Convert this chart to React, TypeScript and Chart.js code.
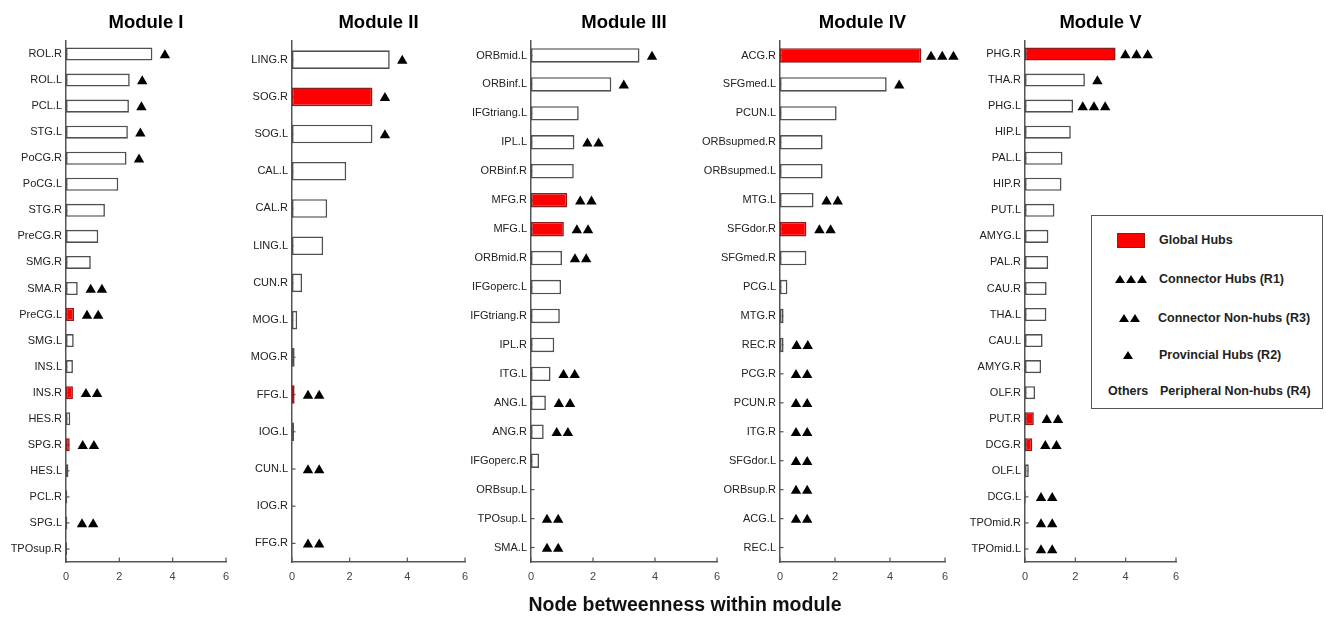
import React, { useEffect, useRef } from "react";
import { Chart, registerables } from "chart.js";

Chart.register(...registerables);

// ---------------- DATA ----------------
// roles: 3 = Connector Hub (R1), 2 = Connector Non-hub (R3), 1 = Provincial Hub (R2), 0 = Peripheral Non-hub (R4)
// global: 1 = Global Hub (red bar)

const mod1Labels = ["ROL.R", "ROL.L", "PCL.L", "STG.L", "PoCG.R", "PoCG.L", "STG.R", "PreCG.R", "SMG.R", "SMA.R", "PreCG.L", "SMG.L", "INS.L", "INS.R", "HES.R", "SPG.R", "HES.L", "PCL.R", "SPG.L", "TPOsup.R"];
const mod1Values = [3.24, 2.39, 2.36, 2.32, 2.27, 1.96, 1.46, 1.21, 0.93, 0.44, 0.3, 0.29, 0.26, 0.26, 0.16, 0.14, 0.09, 0.05, 0.05, 0.04];
const mod1Roles = [1, 1, 1, 1, 1, 0, 0, 0, 0, 2, 2, 0, 0, 2, 0, 2, 0, 0, 2, 0];
const mod1Global = [0, 0, 0, 0, 0, 0, 0, 0, 0, 0, 1, 0, 0, 1, 0, 1, 0, 0, 0, 0];

const mod2Labels = ["LING.R", "SOG.R", "SOG.L", "CAL.L", "CAL.R", "LING.L", "CUN.R", "MOG.L", "MOG.R", "FFG.L", "IOG.L", "CUN.L", "IOG.R", "FFG.R"];
const mod2Values = [3.39, 2.79, 2.79, 1.88, 1.22, 1.08, 0.35, 0.18, 0.09, 0.09, 0.07, 0, 0, 0];
const mod2Roles = [1, 1, 1, 0, 0, 0, 0, 0, 0, 2, 0, 2, 0, 2];
const mod2Global = [0, 1, 0, 0, 0, 0, 0, 0, 0, 1, 0, 0, 0, 0];

const mod3Labels = ["ORBmid.L", "ORBinf.L", "IFGtriang.L", "IPL.L", "ORBinf.R", "MFG.R", "MFG.L", "ORBmid.R", "IFGoperc.L", "IFGtriang.R", "IPL.R", "ITG.L", "ANG.L", "ANG.R", "IFGoperc.R", "ORBsup.L", "TPOsup.L", "SMA.L"];
const mod3Values = [3.5, 2.59, 1.54, 1.4, 1.38, 1.17, 1.06, 1.0, 0.97, 0.93, 0.75, 0.63, 0.48, 0.41, 0.26, 0, 0, 0];
const mod3Roles = [1, 1, 0, 2, 0, 2, 2, 2, 0, 0, 0, 2, 2, 2, 0, 0, 2, 2];
const mod3Global = [0, 0, 0, 0, 0, 1, 1, 0, 0, 0, 0, 0, 0, 0, 0, 0, 0, 0];

const mod4Labels = ["ACG.R", "SFGmed.L", "PCUN.L", "ORBsupmed.R", "ORBsupmed.L", "MTG.L", "SFGdor.R", "SFGmed.R", "PCG.L", "MTG.R", "REC.R", "PCG.R", "PCUN.R", "ITG.R", "SFGdor.L", "ORBsup.R", "ACG.L", "REC.L"];
const mod4Values = [5.14, 3.88, 2.06, 1.55, 1.55, 1.22, 0.96, 0.96, 0.27, 0.13, 0.13, 0, 0, 0, 0, 0, 0, 0];
const mod4Roles = [3, 1, 0, 0, 0, 2, 2, 0, 0, 0, 2, 2, 2, 2, 2, 2, 2, 0];
const mod4Global = [1, 0, 0, 0, 0, 0, 1, 0, 0, 0, 0, 0, 0, 0, 0, 0, 0, 0];

const mod5Labels = ["PHG.R", "THA.R", "PHG.L", "HIP.L", "PAL.L", "HIP.R", "PUT.L", "AMYG.L", "PAL.R", "CAU.R", "THA.L", "CAU.L", "AMYG.R", "OLF.R", "PUT.R", "DCG.R", "OLF.L", "DCG.L", "TPOmid.R", "TPOmid.L"];
const mod5Values = [3.6, 2.38, 1.91, 1.82, 1.49, 1.45, 1.17, 0.93, 0.92, 0.86, 0.85, 0.7, 0.64, 0.4, 0.35, 0.29, 0.15, 0.03, 0, 0];
const mod5Roles = [3, 1, 3, 0, 0, 0, 0, 0, 0, 0, 0, 0, 0, 0, 2, 2, 0, 2, 2, 2];
const mod5Global = [1, 0, 0, 0, 0, 0, 0, 0, 0, 0, 0, 0, 0, 0, 1, 1, 0, 0, 0, 0];

const moduleTitles = ["Module I", "Module II", "Module III", "Module IV", "Module V"];
const xTicks = [0, 2, 4, 6];
const xAxisTitle = "Node betweenness within module";

const legendGlobal = "Global Hubs";
const legendR1 = "Connector Hubs (R1)";
const legendR3 = "Connector Non-hubs (R3)";
const legendR2 = "Provincial Hubs (R2)";
const legendOthers = "Others";
const legendR4 = "Peripheral Non-hubs (R4)";

// ---------------- STYLE / LAYOUT ----------------
const FONT = "'Liberation Sans', Arial, Helvetica, sans-serif";
const RED = "#ff0000";
const RED_BORDER = "#8e1c1c";
const BAR_BORDER = "#505050";
const AXIS_COLOR = "#555555";
const PAD_R = 14;
const CANVAS_H = 602;

const panelBounds = [
  [66, 226],
  [292, 465],
  [531, 717],
  [780, 945],
  [1025, 1176],
];
const labelWidths = [62, 80, 80, 92, 80];

const modules = [
  { labels: mod1Labels, values: mod1Values, roles: mod1Roles, global: mod1Global },
  { labels: mod2Labels, values: mod2Values, roles: mod2Roles, global: mod2Global },
  { labels: mod3Labels, values: mod3Values, roles: mod3Roles, global: mod3Global },
  { labels: mod4Labels, values: mod4Values, roles: mod4Roles, global: mod4Global },
  { labels: mod5Labels, values: mod5Values, roles: mod5Roles, global: mod5Global },
];

type PanelProps = {
  title: string;
  labels: string[];
  values: number[];
  roles: number[];
  global: number[];
  left: number;
  right: number;
  labelW: number;
};

function Panel({ title, labels, values, roles, global, left, right, labelW }: PanelProps) {
  const ref = useRef<HTMLCanvasElement>(null);
  const width = labelW + (right - left) + PAD_R;

  useEffect(() => {
    const canvas = ref.current;
    if (!canvas) return;

    const tickPlugin = {
      id: "inwardTicks",
      beforeDatasetsDraw(chart: any) {
        const { ctx, chartArea, scales } = chart;
        ctx.save();
        ctx.strokeStyle = AXIS_COLOR;
        ctx.lineWidth = 1.2;
        scales.y.ticks.forEach((_: any, i: number) => {
          const y = scales.y.getPixelForTick(i);
          ctx.beginPath();
          ctx.moveTo(chartArea.left, y);
          ctx.lineTo(chartArea.left + 3.5, y);
          ctx.stroke();
        });
        xTicks.forEach((v) => {
          const x = scales.x.getPixelForValue(v);
          ctx.beginPath();
          ctx.moveTo(x, chartArea.bottom);
          ctx.lineTo(x, chartArea.bottom - 4.5);
          ctx.stroke();
        });
        ctx.restore();
      },
    };

    const markerPlugin = {
      id: "roleMarkers",
      afterDatasetsDraw(chart: any) {
        const meta = chart.getDatasetMeta(0);
        const axisX = chart.scales.x.getPixelForValue(0);
        const ctx = chart.ctx;
        ctx.save();
        ctx.fillStyle = "#000";
        meta.data.forEach((el: any, i: number) => {
          const n = roles[i];
          if (!n) return;
          const end = el.x;
          let start: number;
          if (n === 3) start = end + 9.7;
          else if (n === 2) start = Math.max(end + 13, axisX + 16);
          else start = end + 12.5;
          for (let k = 0; k < n; k++) {
            const cx = start + k * 11.2;
            const cy = el.y;
            ctx.beginPath();
            ctx.moveTo(cx, cy - 4.8);
            ctx.lineTo(cx + 5.2, cy + 4.2);
            ctx.lineTo(cx - 5.2, cy + 4.2);
            ctx.closePath();
            ctx.fill();
          }
        });
        ctx.restore();
      },
    };

    const chart = new Chart(canvas, {
      type: "bar",
      data: {
        labels,
        datasets: [
          {
            data: values,
            backgroundColor: global.map((g) => (g ? RED : "#ffffff")),
            borderColor: global.map((g) => (g ? RED_BORDER : BAR_BORDER)),
            borderWidth: 1.6,
            borderSkipped: false,
            barPercentage: 0.5,
            categoryPercentage: 1,
          },
        ],
      },
      options: {
        indexAxis: "y",
        responsive: false,
        maintainAspectRatio: false,
        animation: false,
        layout: { padding: { left: 0, right: PAD_R, top: 0, bottom: 0 } },
        plugins: {
          legend: { display: false },
          tooltip: { enabled: false },
          title: {
            display: true,
            text: title,
            fullSize: false,
            color: "#000",
            font: { family: FONT, size: 18.5, weight: "bold" },
            padding: { top: 11.5, bottom: 7.3 },
          },
        },
        scales: {
          x: {
            type: "linear",
            min: 0,
            max: 6,
            grid: { display: false, drawTicks: false },
            border: { display: true, color: AXIS_COLOR, width: 1.5 },
            ticks: {
              stepSize: 2,
              padding: 8,
              color: "#444",
              font: { family: FONT, size: 11 },
            },
            afterFit: (s: any) => {
              s.height = 40;
            },
          },
          y: {
            grid: { display: false, drawTicks: false },
            border: { display: true, color: AXIS_COLOR, width: 1.5 },
            ticks: {
              autoSkip: false,
              padding: 4,
              color: "#222",
              font: { family: FONT, size: 11 },
            },
            afterFit: (s: any) => {
              s.width = labelW;
            },
          },
        },
      } as any,
      plugins: [tickPlugin, markerPlugin],
    });
    return () => chart.destroy();
  }, []);

  return (
    <canvas
      ref={ref}
      width={width}
      height={CANVAS_H}
      style={{ position: "absolute", left: left - labelW, top: 0, width, height: CANVAS_H }}
    />
  );
}

function Tri({ left, top }: { left: number; top: number }) {
  return (
    <div
      style={{
        position: "absolute",
        left,
        top,
        width: 0,
        height: 0,
        borderLeft: "5px solid transparent",
        borderRight: "5px solid transparent",
        borderBottom: "8.5px solid #000",
      }}
    />
  );
}

function LegendText({ left, cy, text }: { left: number; cy: number; text: string }) {
  return (
    <div
      style={{
        position: "absolute",
        left,
        top: cy - 8,
        height: 16,
        lineHeight: "16px",
        fontFamily: FONT,
        fontWeight: "bold",
        fontSize: 12.5,
        color: "#222",
        whiteSpace: "nowrap",
      }}
    >
      {text}
    </div>
  );
}

function Legend() {
  const rows = [24, 63, 102, 139, 175];
  return (
    <div
      style={{
        position: "absolute",
        left: 1091,
        top: 215,
        width: 232,
        height: 194,
        boxSizing: "border-box",
        border: "1.5px solid #555",
        background: "#fff",
      }}
    >
      <div
        style={{
          position: "absolute",
          left: 25,
          top: rows[0] - 7.5,
          width: 28,
          height: 15,
          boxSizing: "border-box",
          background: RED,
          border: `1px solid ${RED_BORDER}`,
        }}
      />
      <LegendText left={67} cy={rows[0]} text={legendGlobal} />

      <Tri left={23} top={rows[1] - 4} />
      <Tri left={34} top={rows[1] - 4} />
      <Tri left={45} top={rows[1] - 4} />
      <LegendText left={67} cy={rows[1]} text={legendR1} />

      <Tri left={27} top={rows[2] - 4} />
      <Tri left={38} top={rows[2] - 4} />
      <LegendText left={66} cy={rows[2]} text={legendR3} />

      <Tri left={31} top={rows[3] - 4} />
      <LegendText left={67} cy={rows[3]} text={legendR2} />

      <LegendText left={16} cy={rows[4]} text={legendOthers} />
      <LegendText left={68} cy={rows[4]} text={legendR4} />
    </div>
  );
}

export default function App() {
  return (
    <div
      style={{
        position: "fixed",
        left: 0,
        top: 0,
        width: 1326,
        height: 618,
        background: "#fff",
        overflow: "hidden",
      }}
    >
      {modules.map((m, i) => (
        <Panel
          key={i}
          title={moduleTitles[i]}
          labels={m.labels}
          values={m.values}
          roles={m.roles}
          global={m.global}
          left={panelBounds[i][0]}
          right={panelBounds[i][1]}
          labelW={labelWidths[i]}
        />
      ))}
      <Legend />
      <div
        style={{
          position: "absolute",
          left: 385,
          width: 600,
          top: 594,
          height: 20,
          lineHeight: "20px",
          textAlign: "center",
          fontFamily: FONT,
          fontWeight: "bold",
          fontSize: 19.5,
          color: "#111",
          whiteSpace: "nowrap",
        }}
      >
        {xAxisTitle}
      </div>
    </div>
  );
}
